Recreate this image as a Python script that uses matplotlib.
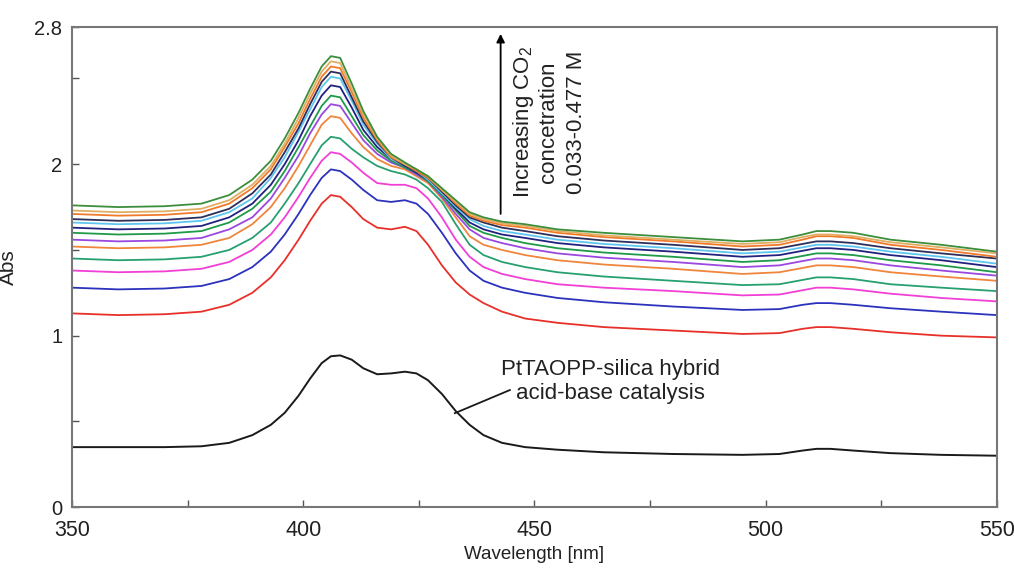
import numpy as np
import matplotlib.pyplot as plt

plt.rcParams['font.family'] = ['Liberation Sans', 'DejaVu Sans']
plt.rcParams['mathtext.fontset'] = 'custom'
plt.rcParams['mathtext.rm'] = 'Liberation Sans'
plt.rcParams['mathtext.default'] = 'regular'

# wavelength sample points (nm)
wl = [350, 360, 370, 378, 384, 389, 393, 396, 399, 401.5, 404, 406, 408,
      410.5, 413, 416, 419, 422, 424.5, 427, 430, 433, 436, 439, 443, 448,
      455, 465, 480, 495, 503, 508, 511, 514, 519, 527, 538, 550]

# PtTAOPP-silica hybrid (black)
hybrid = [0.35, 0.35, 0.35, 0.355, 0.375, 0.42, 0.48, 0.55, 0.65, 0.75, 0.84, 0.88, 0.885,
          0.86, 0.81, 0.775, 0.78, 0.79, 0.78, 0.74, 0.66, 0.56, 0.48, 0.42, 0.375, 0.35,
          0.335, 0.32, 0.31, 0.305, 0.31, 0.33, 0.34, 0.34, 0.33, 0.315, 0.305, 0.30]

# spectra with increasing CO2 concentration (bottom -> top)
red = [1.13, 1.12, 1.125, 1.14, 1.18, 1.25, 1.34, 1.44, 1.56, 1.67, 1.77, 1.82, 1.81,
       1.75, 1.68, 1.63, 1.62, 1.635, 1.61, 1.53, 1.41, 1.31, 1.24, 1.19, 1.14, 1.10,
       1.075, 1.05, 1.03, 1.01, 1.015, 1.04, 1.05, 1.05, 1.04, 1.02, 1.00, 0.99]
blue = [1.28, 1.27, 1.275, 1.29, 1.33, 1.40, 1.49, 1.59, 1.71, 1.82, 1.92, 1.97, 1.96,
        1.91, 1.85, 1.79, 1.78, 1.79, 1.77, 1.71, 1.60, 1.48, 1.38, 1.32, 1.28, 1.25,
        1.22, 1.195, 1.17, 1.15, 1.155, 1.18, 1.19, 1.19, 1.18, 1.16, 1.14, 1.12]
magenta = [1.38, 1.37, 1.375, 1.39, 1.43, 1.50, 1.59, 1.69, 1.81, 1.92, 2.02, 2.07, 2.06,
           2.01, 1.95, 1.89, 1.88, 1.88, 1.86, 1.80, 1.69, 1.56, 1.46, 1.40, 1.36, 1.33,
           1.30, 1.28, 1.26, 1.235, 1.24, 1.265, 1.28, 1.28, 1.27, 1.245, 1.22, 1.20]
teal = [1.45, 1.44, 1.445, 1.46, 1.50, 1.57, 1.66, 1.77, 1.89, 2.00, 2.11, 2.16, 2.15,
        2.09, 2.04, 1.99, 1.96, 1.94, 1.91, 1.86, 1.78, 1.65, 1.53, 1.47, 1.43, 1.40,
        1.37, 1.345, 1.32, 1.295, 1.30, 1.325, 1.34, 1.34, 1.33, 1.30, 1.28, 1.26]
orange = [1.52, 1.51, 1.515, 1.53, 1.57, 1.65, 1.75, 1.86, 1.99, 2.11, 2.23, 2.28, 2.27,
          2.18, 2.10, 2.03, 1.99, 1.97, 1.93, 1.89, 1.80, 1.69, 1.58, 1.53, 1.50, 1.47,
          1.44, 1.415, 1.39, 1.36, 1.37, 1.395, 1.41, 1.41, 1.40, 1.37, 1.345, 1.32]
purple = [1.56, 1.55, 1.555, 1.57, 1.62, 1.69, 1.80, 1.92, 2.05, 2.18, 2.29, 2.35, 2.34,
          2.24, 2.14, 2.06, 2.01, 1.98, 1.94, 1.90, 1.81, 1.71, 1.62, 1.57, 1.54, 1.51,
          1.48, 1.455, 1.43, 1.40, 1.41, 1.435, 1.45, 1.45, 1.44, 1.41, 1.38, 1.35]
green = [1.60, 1.59, 1.595, 1.61, 1.66, 1.74, 1.84, 1.96, 2.10, 2.22, 2.34, 2.40, 2.39,
         2.28, 2.17, 2.08, 2.02, 1.98, 1.95, 1.90, 1.82, 1.73, 1.64, 1.60, 1.57, 1.54,
         1.51, 1.485, 1.46, 1.43, 1.44, 1.465, 1.48, 1.48, 1.47, 1.44, 1.41, 1.37]
navy = [1.63, 1.62, 1.625, 1.64, 1.69, 1.77, 1.88, 2.00, 2.14, 2.28, 2.40, 2.46, 2.45,
        2.33, 2.20, 2.10, 2.03, 1.99, 1.95, 1.91, 1.83, 1.74, 1.66, 1.62, 1.59, 1.57,
        1.54, 1.515, 1.49, 1.46, 1.47, 1.495, 1.51, 1.51, 1.50, 1.47, 1.44, 1.40]
lightblue = [1.66, 1.65, 1.655, 1.67, 1.72, 1.80, 1.92, 2.04, 2.19, 2.32, 2.45, 2.51, 2.50,
             2.37, 2.23, 2.12, 2.03, 1.99, 1.96, 1.91, 1.83, 1.75, 1.68, 1.64, 1.61, 1.59,
             1.56, 1.535, 1.51, 1.48, 1.49, 1.515, 1.53, 1.53, 1.52, 1.49, 1.46, 1.42]
darknavy = [1.68, 1.67, 1.675, 1.69, 1.74, 1.83, 1.94, 2.07, 2.21, 2.35, 2.48, 2.54, 2.53,
            2.39, 2.25, 2.13, 2.04, 1.99, 1.96, 1.92, 1.84, 1.76, 1.69, 1.66, 1.63, 1.61,
            1.58, 1.555, 1.53, 1.50, 1.51, 1.535, 1.55, 1.55, 1.54, 1.51, 1.48, 1.45]
orange2 = [1.71, 1.70, 1.705, 1.72, 1.77, 1.86, 1.97, 2.10, 2.24, 2.38, 2.51, 2.57, 2.56,
           2.42, 2.27, 2.14, 2.04, 2.00, 1.96, 1.92, 1.85, 1.77, 1.70, 1.67, 1.645, 1.63,
           1.60, 1.575, 1.55, 1.52, 1.53, 1.56, 1.58, 1.58, 1.57, 1.53, 1.50, 1.46]
tan = [1.73, 1.72, 1.725, 1.74, 1.79, 1.88, 1.99, 2.12, 2.27, 2.41, 2.54, 2.60, 2.59,
       2.44, 2.29, 2.15, 2.05, 2.00, 1.97, 1.93, 1.85, 1.78, 1.71, 1.68, 1.655, 1.64,
       1.61, 1.585, 1.56, 1.535, 1.545, 1.575, 1.59, 1.59, 1.58, 1.545, 1.515, 1.48]
green2 = [1.76, 1.75, 1.755, 1.77, 1.82, 1.91, 2.02, 2.15, 2.30, 2.44, 2.57, 2.63, 2.62,
          2.47, 2.31, 2.16, 2.06, 2.01, 1.97, 1.93, 1.86, 1.79, 1.72, 1.69, 1.665, 1.65,
          1.62, 1.60, 1.575, 1.55, 1.56, 1.59, 1.61, 1.61, 1.60, 1.56, 1.53, 1.49]

series = [red, blue, magenta, teal, orange, purple, green, navy,
          lightblue, darknavy, orange2, tan, green2]
cores = ['#e8302a', '#2b33bd', '#f23fd6', '#27a070', '#f0853c', '#9b48e0', '#1e9a48',
         '#22227e', '#5ec6ee', '#2e2e5a', '#f07a2a', '#e0ae62', '#3c8e3c']

fig = plt.figure(figsize=(10.14, 5.75), dpi=100)
ax = fig.add_axes([0.071, 0.118, 0.912, 0.835])

ax.plot(wl, hybrid, color='#1a1a1a', lw=1.4)
for y, c in zip(series, cores):
    ax.plot(wl, y, color=c, lw=1.3)

ax.set_xlim(350, 550)
ax.set_ylim(0, 2.8)
ax.set_xticks([350, 400, 450, 500, 550])
ax.set_xticks([375, 425, 475, 525], minor=True)
ax.set_yticks([0, 1, 2, 2.8])
ax.set_yticklabels(['0', '1', '2', '2.8'])
ax.set_yticks([0.5, 1.5, 2.5], minor=True)
ax.tick_params(which='both', direction='in', length=5, width=1, color='#555555',
               labelcolor='#222222')
ax.tick_params(axis='y', labelsize=14.5, pad=7)
ax.tick_params(axis='x', labelsize=15.5, pad=9)
for s in ax.spines.values():
    s.set_color('#777777')
    s.set_linewidth(1.5)

ax.set_xlabel('Wavelength [nm]', fontsize=13.5, color='#222222', labelpad=4)
ax.set_ylabel('Abs', fontsize=15, color='#222222', labelpad=12)

# arrow + concentration note
ax.annotate('', xy=(442.7, 2.76), xytext=(442.7, 1.71),
            arrowprops=dict(arrowstyle='-|>', color='black', lw=1.3,
                            mutation_scale=12, shrinkA=0, shrinkB=0))
ax.text(450.1, 2.246, 'Increasing CO$_2$\nconcetration', rotation=90, ha='center',
        va='center', fontsize=16, color='#222222', linespacing=1.15)
ax.text(459.2, 2.246, '0.033-0.477 M', rotation=90, ha='center', va='center',
        fontsize=16, color='#222222')

ax.plot([432.8, 444.7], [0.548, 0.683], color='#1a1a1a', lw=1.3)
ax.text(466.5, 0.735, 'PtTAOPP-silica hybrid\nacid-base catalysis', ha='center',
        va='center', fontsize=16, color='#222222', linespacing=1.2)

fig.savefig('out.png', dpi=100)
